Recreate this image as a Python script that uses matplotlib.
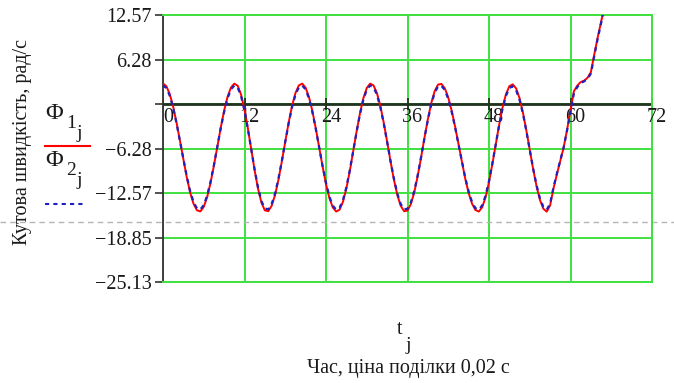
import numpy as np
import matplotlib
matplotlib.use('Agg')
import matplotlib.pyplot as plt
from matplotlib import transforms
from matplotlib.lines import Line2D

plt.rcParams['font.family'] = ['Liberation Serif', 'DejaVu Serif']
plt.rcParams['mathtext.fontset'] = 'stix'

# time step of the samples (index j -> t_j)
t_step = 0.5

phi1 = [2.90, 2.51, 1.39, -0.39, -2.65, -5.22, -7.87, -10.35, -12.50, -14.09,
        -15.01, -15.16, -14.52, -13.14, -11.13, -8.69, -6.01, -3.35, -0.94, 1.01,
        2.32, 2.88, 2.58, 1.31, -0.78, -3.47, -6.45, -9.40, -12.00, -13.95,
        -15.02, -15.13, -14.37, -12.84, -10.68, -8.09, -5.31, -2.63, -0.26, 1.54,
        2.63, 2.88, 2.31, 0.97, -1.01, -3.46, -6.15, -8.84, -11.29, -13.27,
        -14.61, -15.18, -14.92, -13.79, -11.92, -9.48, -6.72, -3.90, -1.30, 0.82,
        2.26, 2.88, 2.63, 1.54, -0.26, -2.63, -5.31, -8.09, -10.68, -12.84,
        -14.37, -15.13, -15.05, -14.12, -12.45, -10.18, -7.54, -4.76, -2.12, 0.15,
        1.82, 2.75, 2.84, 2.21, 0.93, -0.92, -3.16, -5.64, -8.16, -10.53,
        -12.55, -14.07, -14.97, -15.18, -14.57, -13.14, -11.02, -8.44, -5.63, -2.89,
        -0.46, 1.40, 2.52, 2.78, 2.19, 0.81, -1.23, -3.74, -6.48, -9.19,
        -11.62, -13.54, -14.78, -15.20, -14.30, -11.90, -9.90, -8.00, -6.10, -3.60,
        -0.90, 1.80, 2.60, 3.10, 3.30, 3.70, 4.50, 7.00, 9.40, 11.60,
        13.80, 16.00]

phi2 = [2.63, 2.25, 1.16, -0.56, -2.76, -5.25, -7.82, -10.22, -12.31, -13.85,
        -14.74, -14.89, -14.27, -12.93, -10.98, -8.61, -6.01, -3.43, -1.10, 0.80,
        2.07, 2.61, 2.32, 1.09, -0.94, -3.55, -6.44, -9.30, -11.82, -13.72,
        -14.75, -14.86, -14.12, -12.64, -10.54, -8.03, -5.34, -2.74, -0.44, 1.31,
        2.37, 2.61, 2.06, 0.76, -1.17, -3.54, -6.15, -8.76, -11.14, -13.06,
        -14.36, -14.91, -14.66, -13.56, -11.75, -9.38, -6.70, -3.97, -1.45, 0.61,
        2.01, 2.61, 2.37, 1.31, -0.44, -2.74, -5.34, -8.03, -10.54, -12.64,
        -14.12, -14.86, -14.78, -13.88, -12.26, -10.06, -7.50, -4.80, -2.24, -0.04,
        1.58, 2.48, 2.57, 1.96, 0.72, -1.08, -3.25, -5.66, -8.10, -10.40,
        -12.36, -13.83, -14.71, -14.91, -14.32, -12.93, -10.87, -8.37, -5.65, -2.99,
        -0.63, 1.17, 2.26, 2.51, 1.94, 0.60, -1.38, -3.81, -6.47, -9.10,
        -11.46, -13.32, -14.52, -14.93, -14.06, -11.75, -9.80, -7.95, -6.10, -3.70,
        -1.10, 1.50, 2.40, 2.95, 3.20, 3.55, 4.30, 6.80, 9.20, 11.40,
        13.60, 15.80]

t = np.arange(len(phi1)) * t_step

x_ticks = [0, 12, 24, 36, 48, 60, 72]
x_tick_labels = ['0', '12', '24', '36', '48', '60', '72']
y_ticks = [12.57, 6.28, 0, -6.28, -12.57, -18.85, -25.13]
y_tick_labels = ['12.57', '6.28', '', '\u22126.28', '\u221212.57', '\u221218.85', '\u221225.13']
marker_level = -16.7

GREEN = '#3fe03f'
DARK = '#1f331f'
TXT = '#1a1a1a'

fig = plt.figure(figsize=(6.74, 3.83), dpi=100)
ax = fig.add_axes([163/674, 1-282/383, (652-163)/674, (282-15)/383])
ax.set_xlim(0, 72)
ax.set_ylim(-25.13, 12.57)
ax.set_axisbelow(True)

ax.set_xticks(x_ticks)
ax.tick_params(axis='x', length=0, labelbottom=False)
ax.set_yticks(y_ticks)
ax.set_yticklabels(y_tick_labels, fontsize=14.5, color=TXT)
ax.tick_params(axis='y', length=6, width=1.2, color='#333333', pad=2)
ax.grid(True, color=GREEN, lw=1.4)
for s in ['top', 'right', 'bottom']:
    ax.spines[s].set_color(GREEN)
    ax.spines[s].set_linewidth(1.4)
ax.spines['left'].set_color('#333333')
ax.spines['left'].set_linewidth(1.3)

ax.axhline(0, color=DARK, lw=2.0, zorder=2)
ax.plot(x_ticks, np.zeros(len(x_ticks)), ls='none', marker='|', ms=8,
        mew=1.3, color=DARK, zorder=2)
lab_tr = transforms.offset_copy(ax.transData, fig=fig, x=5, y=-4, units='dots')
for xv, lab in zip(x_ticks, x_tick_labels):
    ax.text(xv, 0, lab, transform=lab_tr, ha='center', va='top', fontsize=14.5,
            color=TXT)

ax.plot(t, phi1, color='red', lw=1.4, zorder=3)
ax.plot(t, phi2, color='#2020c0', lw=1.6, ls=(0, (2, 2)), zorder=4)

# dashed gray marker line running across the whole picture
tr = transforms.blended_transform_factory(fig.transFigure, ax.transData)
ax.plot([0, 1], [marker_level, marker_level], transform=tr, clip_on=False,
        color='#b5b5b5', lw=1.0, ls=(0, (4, 3)), zorder=1)

# y axis title
fig.text(23/674, 1-142/383, 'Кутова швидкість, рад/с', rotation=90,
         ha='center', va='center', fontsize=14.5, color=TXT)

# legend: Φ with stacked subscripts, like Mathcad draws them
def px(x, y):
    return x / 674, 1 - y / 383

for top, sub, col, ls, ly, x2 in [(103, '1', 'red', '-', 146, 90),
                                  (150, '2', '#2020c0', (0, (2, 2)), 204, 86)]:
    fig.text(*px(45, top), 'Φ', ha='left', va='top', fontsize=17.5, color=TXT)
    fig.text(*px(66, top + 12), sub, ha='left', va='top', fontsize=14, color=TXT)
    fig.text(*px(77, top + 22), 'j', ha='left', va='top', fontsize=14, color=TXT)
    fig.add_artist(Line2D([45/674, x2/674], [1-ly/383, 1-ly/383],
                          color=col, lw=1.5, ls=ls))

# x axis title
fig.text(400/674, 1-330/383, 't', ha='center', va='center', fontsize=14.5, color=TXT)
fig.text(408/674, 1-345/383, 'j', ha='center', va='center', fontsize=14, color=TXT)
fig.text(408/674, 1-368/383, 'Час, ціна поділки 0,02 с', ha='center',
         va='center', fontsize=14.5, color=TXT)

fig.savefig('out.png', dpi=100)
